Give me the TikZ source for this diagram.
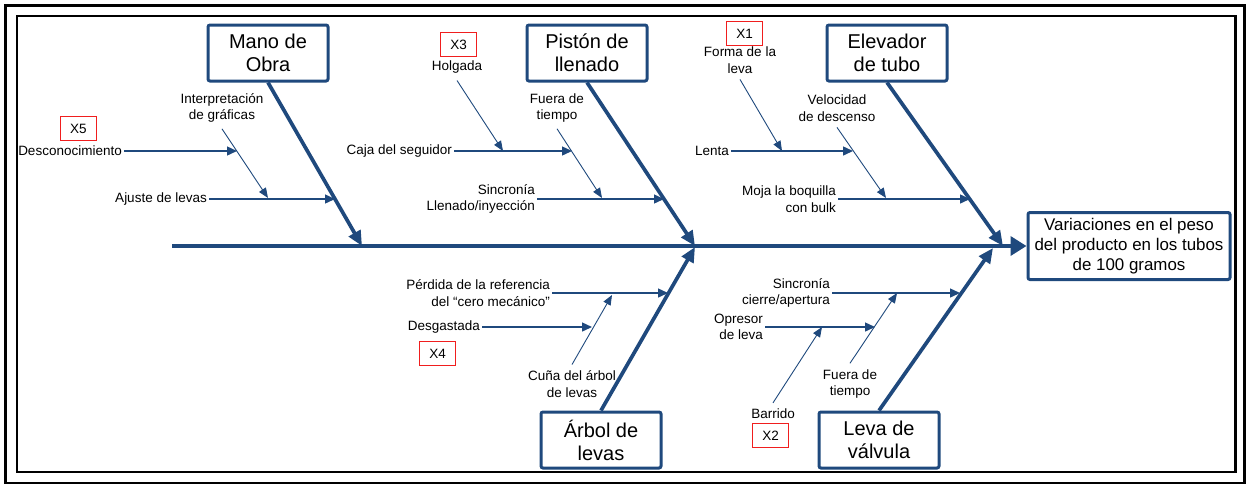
\documentclass[tikz,border=0pt]{standalone}
\usepackage{fontspec}
\setmainfont{Liberation Sans}
\usetikzlibrary{
  arrows.meta,
  positioning
}
\definecolor{fishblue}{RGB}{31,73,125}
\definecolor{xred}{RGB}{240,30,30}
\tikzset{
  catbox/.style={
    rectangle, draw=fishblue, line width=3pt, rounded corners=2pt,
    minimum width=120pt, minimum height=56pt, inner sep=2pt,
    align=center, font=\fontsize{20}{23}\selectfont
  },
  effectbox/.style={
    rectangle, draw=fishblue, line width=3pt, rounded corners=2pt,
    minimum width=202pt, minimum height=67pt, inner sep=2pt,
    align=center, font=\fontsize{16.9}{20}\selectfont
  },
  cause/.style={
    inner sep=2pt, align=center, font=\fontsize{13.5}{16.5}\selectfont
  },
  xbox/.style={
    rectangle, draw, color=xred, text=black, line width=1.2pt,
    minimum width=36pt, minimum height=24pt, inner sep=1pt,
    font=\fontsize{13.5}{16.5}\selectfont
  },
  spine/.style={draw=fishblue, line width=3.7pt, -{Triangle[length=16pt, width=19pt]}},
  bone/.style={draw=fishblue, line width=3.7pt, -{Triangle[length=15pt, width=13pt]}},
  subbone/.style={draw=fishblue, line width=1.4pt, -{Triangle[length=10pt, width=9pt]}},
  twig/.style={draw=fishblue, line width=0.9pt, -{Triangle[length=10pt, width=8pt]}}
}

\begin{document}
\begin{tikzpicture}[x=1pt, y=-1pt]

\useasboundingbox (0,0) rectangle (1246,483);

% Frames
\draw[line width=3pt] (5.5,5.5) rectangle (1244.5,483.5);
\draw[line width=2.5pt] (17,16) rectangle (1235.5,472);

% Effect and spine
\node[effectbox] (efecto) at (1129,246)
  {Variaciones en el peso\\del producto en los tubos\\de 100 gramos};
\coordinate (spinestart) at (172,246);
\draw[spine] (spinestart) -- (efecto.west);

% Mano de Obra
\node[catbox] (mano) at (268,53) {Mano de\\Obra};
\node[cause, anchor=east] (desc) at (124,151) {Desconocimiento};
\node[cause] (interp) at (222,108) {Interpretación\\de gráficas};
\node[cause, anchor=east] (ajuste) at (209,199) {Ajuste de levas};
\coordinate (tipMano) at (362,246);
\coordinate (tipDesc) at (237,151);
\coordinate (tipInterp) at (268,198);
\coordinate (tipAjuste) at (335,199);
\draw[bone] (mano.south) -- (tipMano);
\draw[subbone] (ajuste.east) -- (tipAjuste);
\draw[twig] ([yshift=-4pt]interp.south) -- (tipInterp);
\draw[subbone] (desc.east) -- (tipDesc);

% Piston de llenado
\node[catbox] (piston) at (587,53) {Pistón de\\llenado};
\node[cause] (holgada) at (457,67) {Holgada};
\node[cause, anchor=east] (caja) at (454,151) {Caja del seguidor};
\node[cause] (fuera1) at (557,108) {Fuera de\\tiempo};
\node[cause, anchor=east, align=right] (sincro1) at (537,199) {Sincronía\\Llenado/inyección};
\coordinate (tipPiston) at (695,246);
\coordinate (tipHolgada) at (503,151);
\coordinate (tipCaja) at (572,151);
\coordinate (tipFuera1) at (602,198);
\coordinate (tipSincro1) at (664,199);
\draw[bone] (piston.south) -- (tipPiston);
\draw[subbone] (sincro1.east) -- (tipSincro1);
\draw[twig] ([yshift=-4pt]fuera1.south) -- (tipFuera1);
\draw[subbone] (caja.east) -- (tipCaja);
\draw[twig] ([yshift=-5pt]holgada.south) -- (tipHolgada);

% Elevador de tubo
\node[catbox] (elevador) at (887,53) {Elevador\\de tubo};
\node[cause] (forma) at (740,60) {Forma de la\\leva};
\node[cause, anchor=east] (lenta) at (731,151) {Lenta};
\node[cause] (veloc) at (837,108) {Velocidad\\de descenso};
\node[cause, anchor=east, align=right] (moja) at (838,199) {Moja la boquilla\\con bulk};
\coordinate (tipElev) at (1003,246);
\coordinate (tipForma) at (782,151);
\coordinate (tipLenta) at (853,151);
\coordinate (tipVeloc) at (886,198);
\coordinate (tipMoja) at (970,199);
\draw[bone] (elevador.south) -- (tipElev);
\draw[subbone] (moja.east) -- (tipMoja);
\draw[twig] ([yshift=-4pt]veloc.south) -- (tipVeloc);
\draw[subbone] (lenta.east) -- (tipLenta);
\draw[twig] ([yshift=-4pt]forma.south) -- (tipForma);

% Arbol de levas
\node[catbox] (arbol) at (601,440) {Árbol de\\levas};
\node[cause, anchor=east] (desgast) at (482,327) {Desgastada};
\node[cause, anchor=east, align=right] (perdida) at (552,293)
  {Pérdida de la referencia\\del “cero mecánico”};
\node[cause] (cuna) at (572,384) {Cuña del árbol\\de levas};
\coordinate (tipArbol) at (695,247);
\coordinate (tipPerdida) at (668,293);
\coordinate (tipDesgast) at (592,327);
\coordinate (tipCuna) at (612,295);
\draw[bone] (arbol.north) -- (tipArbol);
\draw[subbone] (perdida.east) -- (tipPerdida);
\draw[twig] ([yshift=4pt]cuna.north) -- (tipCuna);
\draw[subbone] (desgast.east) -- (tipDesgast);

% Leva de valvula
\node[catbox] (leva) at (879,440) {Leva de\\válvula};
\node[cause, anchor=east, align=right] (sincro2) at (832,293) {Sincronía\\cierre/apertura};
\node[cause, anchor=east, align=right] (opresor) at (765,327) {Opresor\\de leva};
\node[cause] (fuera2) at (850,384) {Fuera de\\tiempo};
\node[cause] (barrido) at (773,414) {Barrido};
\coordinate (tipLeva) at (993,248);
\coordinate (tipSincro2) at (960,293);
\coordinate (tipOpresor) at (875,327);
\coordinate (tipFuera2) at (897,293);
\coordinate (tipBarrido) at (822,327);
\draw[bone] (leva.north) -- (tipLeva);
\draw[subbone] (sincro2.east) -- (tipSincro2);
\draw[twig] ([yshift=4pt]fuera2.north) -- (tipFuera2);
\draw[subbone] (opresor.east) -- (tipOpresor);
\draw[twig] ([yshift=4pt]barrido.north) -- (tipBarrido);

% Variable tags
\node[xbox] (x1) at (744.5,33.5) {X1};
\node[xbox] (x2) at (770.5,435.5) {X2};
\node[xbox] (x3) at (458.5,44.5) {X3};
\node[xbox] (x4) at (437.5,353.5) {X4};
\node[xbox] (x5) at (78.5,128.5) {X5};

\end{tikzpicture}
\end{document}
